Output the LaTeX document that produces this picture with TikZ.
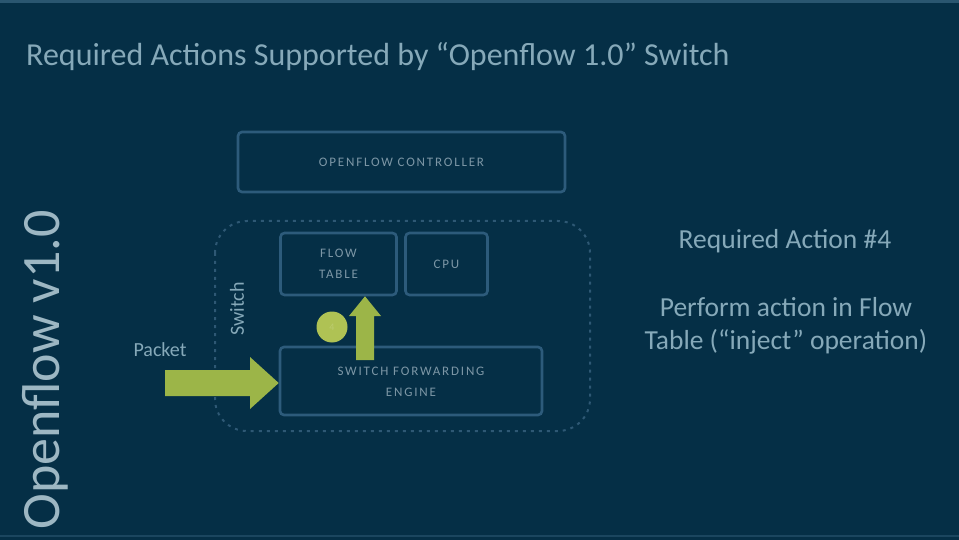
\documentclass[tikz,border=0pt]{standalone}
\usepackage{fontspec}
\setmainfont{Carlito}
\definecolor{bg}{HTML}{052F46}
\definecolor{bgedge}{HTML}{2A5670}
\definecolor{boxline}{HTML}{2D5B7B}
\definecolor{dashline}{HTML}{2E5874}
\definecolor{titletxt}{HTML}{86A9B9}
\definecolor{sidetxt}{HTML}{9DB7C3}
\definecolor{boxtxt}{HTML}{7D97A6}
\definecolor{agreen}{HTML}{9CB548}
\definecolor{cgreen}{HTML}{AFC254}
\tikzset{
  compbox/.style={draw=boxline, line width=2.6pt, rounded corners=4pt, inner sep=0pt},
  boxlabel/.style={text=boxtxt, font=\fontsize{13}{21}\selectfont\addfontfeatures{LetterSpace=14}, align=center},
  bodytxt/.style={text=titletxt, font=\fontsize{27.5}{33}\selectfont, align=center},
  smalltxt/.style={text=titletxt, font=\fontsize{20}{22}\selectfont}
}
\begin{document}
\begin{tikzpicture}[x=1pt,y=-1pt]
\useasboundingbox (0,0) rectangle (959,540);
\fill[bg] (0,0) rectangle (959,540);
\fill[bgedge] (0,0) rectangle (959,3);
\fill[bgedge!60!bg] (0,535) rectangle (959,537);
% title
\node[anchor=west, text=titletxt, font=\fontsize{32}{36}\selectfont, inner sep=0pt] (title) at (26,57)
  {Required Actions Supported by “Openflow 1.0” Switch};
% vertical side label
\node[rotate=90, text=sidetxt, font=\fontsize{54}{60}\selectfont, inner sep=0pt] (side) at (45,370) {Openflow v1.0};
% switch dashed container
\draw[dashline, line width=2pt, dash pattern=on 3pt off 5pt, rounded corners=32pt] (215,221) rectangle (590,431);
% boxes
\node[compbox, minimum width=327pt, minimum height=60pt] (ctrl) at (401.5,162) {};
\node[boxlabel] (ctrllbl) at (ctrl.center) {OPENFLOW CONTROLLER};
\node[compbox, minimum width=116pt, minimum height=62pt] (flow) at (338.5,264) {};
\node[boxlabel] (flowlbl) at (flow.center) {FLOW\\TABLE};
\node[compbox, minimum width=82pt, minimum height=62pt] (cpu) at (446.5,264) {};
\node[boxlabel] (cpulbl) at (cpu.center) {CPU};
\node[compbox, minimum width=262pt, minimum height=68pt] (eng) at (411,381) {};
\node[boxlabel] (englbl) at (411,382) {SWITCH FORWARDING\\ENGINE};
% labels
\node[smalltxt, rotate=90] (swlbl) at (237,309) {Switch};
\node[smalltxt] (pkt) at (160,350) {Packet};
% packet arrow into engine
\coordinate (pa0) at (165,383);
\fill[agreen] (165,370) -- (250,370) -- (250,357) -- (eng.west |- pa0) -- (250,409) -- (250,396) -- (165,396) -- cycle;
% up arrow engine -> flow table
\coordinate (ua0) at (365,360);
\fill[agreen] (356,360) -- (356,316) -- (349,316) -- (ua0 |- flow.south) -- (381,316) -- (374,316) -- (374,360) -- cycle;
% step marker
\node[circle, fill=cgreen, minimum size=31pt, inner sep=0pt, text=cgreen!85!white, font=\fontsize{10}{12}\selectfont] (step4) at (332,327) {4};
% right text
\node[bodytxt] (ra) at (785,241) {Required Action \#4};
\node[bodytxt] (rb) at (786,326) {Perform action in Flow\\Table (“inject” operation)};
\end{tikzpicture}
\end{document}
